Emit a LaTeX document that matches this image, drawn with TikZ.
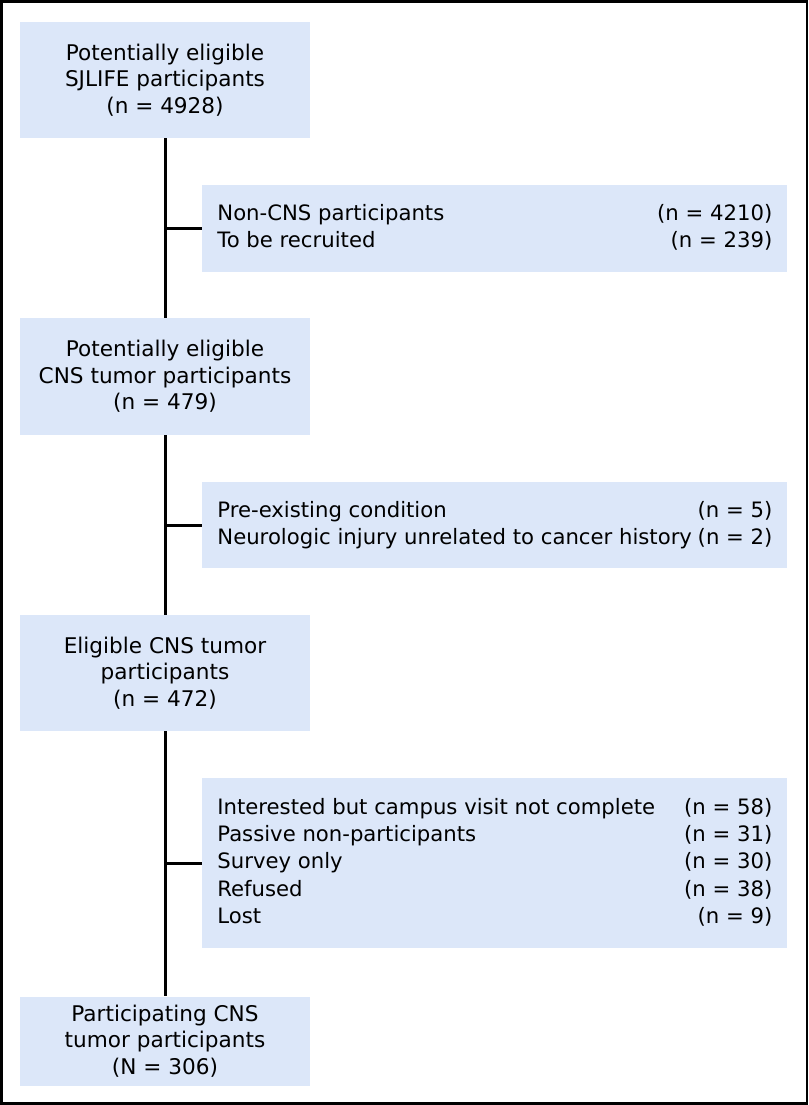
\documentclass[tikz,border=0pt]{standalone}
\usepackage{fontspec}
\setmainfont{DejaVu Sans}
\definecolor{flow_fill}{HTML}{DCE7F9}

\begin{document}
\begin{tikzpicture}[x={(.5pt,0)}, y={(0,-.5pt)}]
    \tikzstyle{mainbox} = [fill = flow_fill, minimum width = 145pt, inner sep = 0pt, align = center, font = \fontsize{10.8}{13.25}\selectfont];
    \tikzstyle{sidebox} = [fill = flow_fill, minimum width = 292.5pt, inner xsep = 7.5pt, inner ysep = 0pt, anchor = north west, font = \fontsize{10.6}{13.6}\selectfont];
    \tikzstyle{link} = [line width = 1.5pt];
    \useasboundingbox (0,0) rectangle (809,1105);
    \draw[line width = 1.2pt] (1.5,1.5) rectangle (807,1103.5);
    \foreach \t/\y/\h [count=\i] in {{Potentially eligible\\SJLIFE participants\\(n = 4928)}/80/58,
        {Potentially eligible\\CNS tumor participants\\(n = 479)}/376.5/58.5,
        {Eligible CNS tumor\\participants\\(n = 472)}/673/58,
        {Participating CNS\\tumor participants\\(N = 306)}/1041/44.5}
    {\node[mainbox, minimum height = \h pt] (main\i) at (165,\y) {\t};}
    \node[sidebox, minimum height = 43.5pt] (side1) at (202,185)
        {\begin{tabular*}{277.5pt}{@{}l@{\extracolsep{\fill}}r@{}}
        Non-CNS participants & (n = 4210)\\
        To be recruited & (n = 239)
        \end{tabular*}};
    \node[sidebox, minimum height = 43pt] (side2) at (202,482)
        {\begin{tabular*}{277.5pt}{@{}l@{\extracolsep{\fill}}r@{}}
        Pre-existing condition & (n = 5)\\
        Neurologic injury unrelated to cancer history & (n = 2)
        \end{tabular*}};
    \node[sidebox, minimum height = 85pt] (side3) at (202,778)
        {\begin{tabular*}{277.5pt}{@{}l@{\extracolsep{\fill}}r@{}}
        Interested but campus visit not complete & (n = 58)\\
        Passive non-participants & (n = 31)\\
        Survey only & (n = 30)\\
        Refused & (n = 38)\\
        Lost & (n = 9)
        \end{tabular*}};
    \foreach \a/\b in {1/2, 2/3, 3/4}
    {\draw[link] (main\a) -- (main\b);
     \draw[link] (side\a.west -| main\a.center) -- (side\a.west);}
\end{tikzpicture}
\end{document}
